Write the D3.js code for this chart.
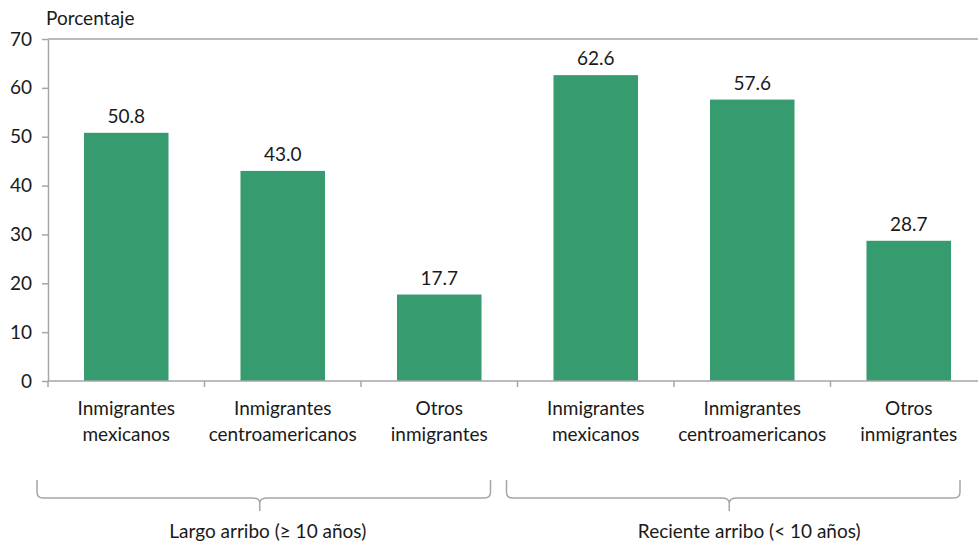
<!DOCTYPE html>
<meta charset="utf-8">
<script src="https://d3js.org/d3.v7.min.js"></script>
<style>
    body { margin: 0; background: #fff; }
    text { font-family: Lato, "Open Sans", sans-serif; fill: #1a1a1a; }
</style>
<div id="viz_area"></div>
<script>
    var categories = ["Inmigrantes\nmexicanos", "Inmigrantes\ncentroamericanos", "Otros\ninmigrantes",
        "Inmigrantes\nmexicanos", "Inmigrantes\ncentroamericanos", "Otros\ninmigrantes"]
    var values = [50.8, 43.0, 17.7, 62.6, 57.6, 28.7]
    var groups = ["Largo arribo (≥ 10 años)", "Reciente arribo (< 10 años)"]
    var yTicks = [0, 10, 20, 30, 40, 50, 60, 70]

    var W = 978, H = 544
    var mLeft = 48, mRight = 987, mTop = 39, mBottom = 381
    var fs = "19px"

    var svG = d3.select("#viz_area").append("svg")
        .attr("width", W).attr("height", H)

    var x = d3.scaleBand()
        .domain(d3.range(categories.length))
        .range([mLeft, mRight])
        .paddingInner(0.46)
        .paddingOuter(0.23)
    var step = x.step()

    var y = d3.scaleLinear().domain([0, 70]).range([mBottom, mTop])

    // top line
    svG.append("line")
        .attr("x1", mLeft).attr("x2", W)
        .attr("y1", y(70)).attr("y2", y(70))
        .attr("stroke", "#a6a6a6").attr("stroke-width", 1.5)

    // y axis
    var yAxis = svG.append("g")
        .attr("transform", "translate(" + mLeft + ",0)")
        .call(d3.axisLeft(y).tickValues(yTicks).tickSize(6).tickPadding(10).tickSizeOuter(0))
    yAxis.selectAll("path, line").attr("stroke", "#a6a6a6").attr("stroke-width", 1.5)
    yAxis.selectAll("text").style("font-size", fs).attr("fill", "#1a1a1a")
        .style("font-family", "Lato, 'Open Sans', sans-serif")

    svG.append("text")
        .attr("x", 46).attr("y", 25)
        .style("font-size", fs)
        .text("Porcentaje")

    // bars
    svG.selectAll(".bar")
        .data(values)
        .enter().append("rect")
        .attr("class", "bar")
        .attr("x", function(d, i) { return x(i) })
        .attr("width", x.bandwidth())
        .attr("y", function(d) { return y(d) })
        .attr("height", function(d) { return y(0) - y(d) })
        .attr("fill", "#369b6e")

    svG.selectAll(".val")
        .data(values)
        .enter().append("text")
        .attr("class", "val")
        .attr("x", function(d, i) { return x(i) + x.bandwidth() / 2 })
        .attr("y", function(d) { return y(d) - 10 })
        .attr("text-anchor", "middle")
        .style("font-size", fs)
        .text(function(d) { return d.toFixed(1) })

    // x axis
    svG.append("line")
        .attr("x1", mLeft).attr("x2", W)
        .attr("y1", y(0)).attr("y2", y(0))
        .attr("stroke", "#a6a6a6").attr("stroke-width", 1.5)

    d3.range(categories.length + 1).forEach(function(i) {
        var bx = mLeft + i * step
        svG.append("line")
            .attr("x1", bx).attr("x2", bx)
            .attr("y1", y(0)).attr("y2", y(0) + 6)
            .attr("stroke", "#a6a6a6").attr("stroke-width", 1.5)
    })

    categories.forEach(function(c, i) {
        var t = svG.append("text")
            .attr("x", x(i) + x.bandwidth() / 2)
            .attr("y", 415)
            .attr("text-anchor", "middle")
            .style("font-size", fs)
        c.split("\n").forEach(function(line, j) {
            t.append("tspan")
                .attr("x", x(i) + x.bandwidth() / 2)
                .attr("dy", j == 0 ? 0 : 26)
                .text(line)
        })
    })

    // group braces
    groups.forEach(function(g, k) {
        var gs = mLeft + k * 3 * step - 11
        var ge = mLeft + (k + 1) * 3 * step - 27
        var mid = (gs + ge) / 2 - 4
        var yt = 480, yh = 498, yb = 511
        var path = "M" + gs + "," + yt + " L" + gs + "," + (yh - 6) +
            " Q" + gs + "," + yh + " " + (gs + 6) + "," + yh +
            " L" + (mid - 8) + "," + yh +
            " Q" + mid + "," + yh + " " + mid + "," + (yh + 5) +
            " L" + mid + "," + yb +
            " M" + mid + "," + (yh + 5) +
            " Q" + mid + "," + yh + " " + (mid + 8) + "," + yh +
            " L" + (ge - 6) + "," + yh +
            " Q" + ge + "," + yh + " " + ge + "," + (yh - 6) +
            " L" + ge + "," + yt
        svG.append("path")
            .attr("d", path)
            .attr("fill", "none")
            .attr("stroke", "#a6a6a6")
            .attr("stroke-width", 1.5)

        svG.append("text")
            .attr("x", mid + (k == 0 ? 8 : 20))
            .attr("y", 538)
            .attr("text-anchor", "middle")
            .style("font-size", fs)
            .text(g)
    })
</script>
